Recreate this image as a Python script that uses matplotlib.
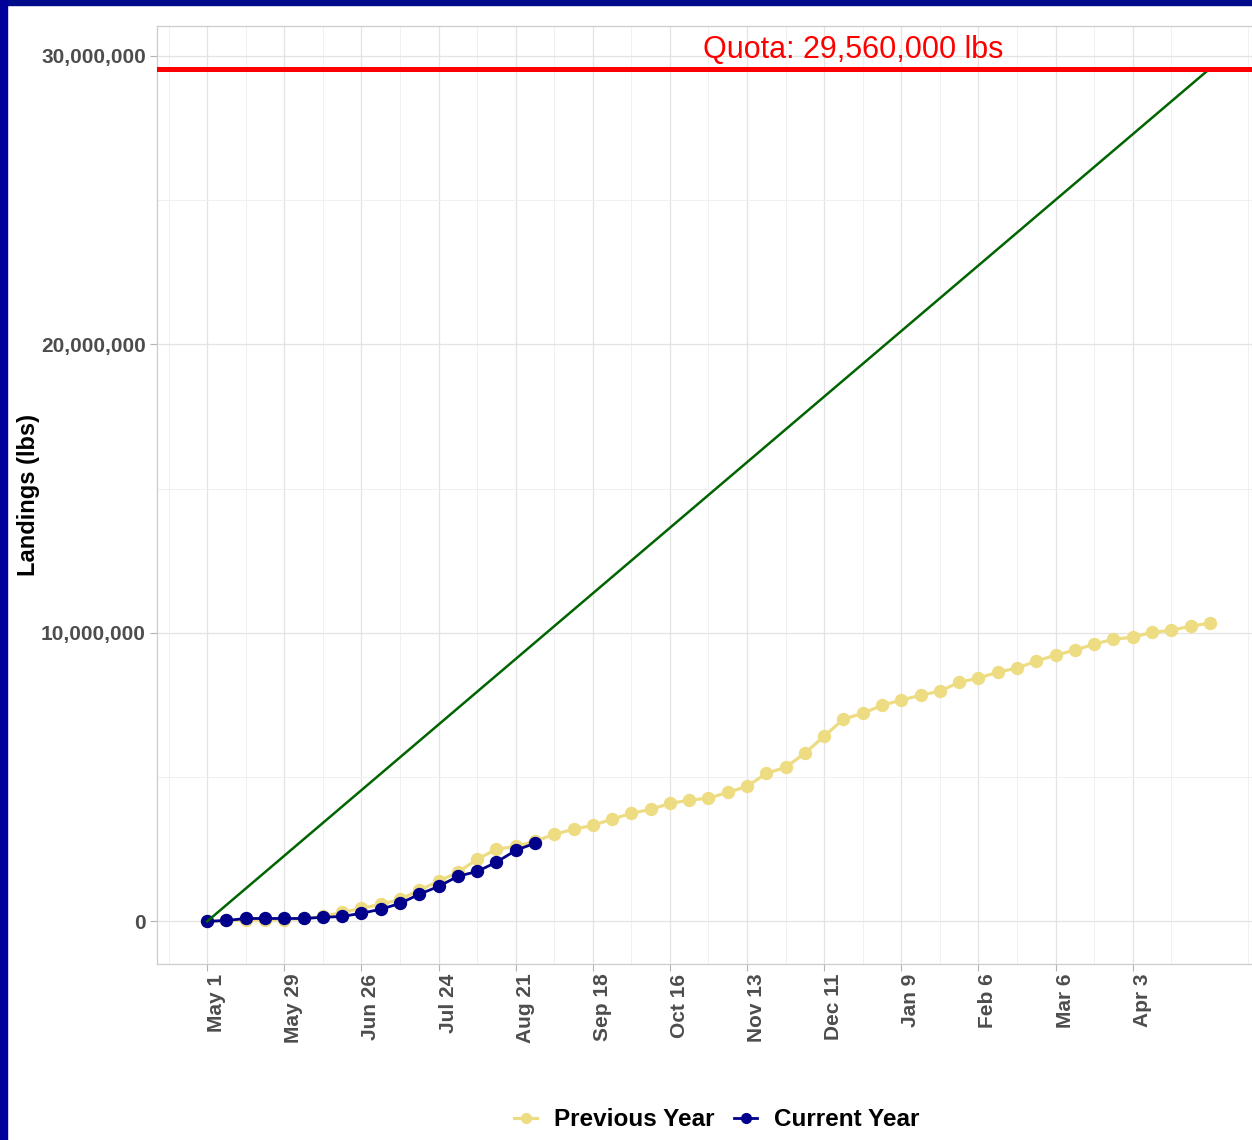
import matplotlib
matplotlib.use("Agg")
import matplotlib.pyplot as plt
from matplotlib.patches import Rectangle
from matplotlib.ticker import FuncFormatter, MultipleLocator

# -----------------------------------------------------------
# Datos (libras acumuladas por semana, desde May 1)
# -----------------------------------------------------------

cuota = 29560000

anterior = [0.00, 0.03, 0.03, 0.04, 0.06, 0.10, 0.17, 0.31, 0.45, 0.59,
            0.76, 1.08, 1.39, 1.70, 2.15, 2.50, 2.60, 2.77, 3.02, 3.19,
            3.33, 3.54, 3.75, 3.88, 4.09, 4.20, 4.27, 4.47, 4.68, 5.13,
            5.34, 5.83, 6.42, 7.01, 7.21, 7.49, 7.67, 7.84, 7.98, 8.29,
            8.43, 8.64, 8.78, 9.02, 9.23, 9.40, 9.61, 9.78, 9.85, 10.02,
            10.09, 10.23, 10.34]

actual = [0.00, 0.03, 0.10, 0.10, 0.10, 0.10, 0.14, 0.17, 0.28, 0.42,
          0.62, 0.94, 1.21, 1.56, 1.73, 2.05, 2.46, 2.71]

etiquetas_x = ["May 1", "May 29", "Jun 26", "Jul 24", "Aug 21", "Sep 18",
               "Oct 16", "Nov 13", "Dec 11", "Jan 9", "Feb 6", "Mar 6",
               "Apr 3"]

semanas_ant = list(range(len(anterior)))
semanas_act = list(range(len(actual)))
vals_ant = [v * 1e6 for v in anterior]
vals_act = [v * 1e6 for v in actual]
pos_ticks = [4 * i for i in range(len(etiquetas_x))]
ultima = semanas_ant[-1]

# -----------------------------------------------------------
# Figura
# -----------------------------------------------------------

plt.rcParams["font.family"] = ["Liberation Sans", "DejaVu Sans"]

fig = plt.figure(figsize=(12.52, 11.40), dpi=100)
ax = fig.add_axes([157 / 1252, 1 - 964 / 1140, 1103 / 1252, 938 / 1140])

ax.plot(semanas_ant, vals_ant, color="#EEDC82", lw=2.3, marker="o",
        ms=8.6, label="Previous Year", zorder=3)
ax.plot(semanas_act, vals_act, color="#00008B", lw=2.0, marker="o",
        ms=8.6, label="Current Year", zorder=4)
ax.plot([0, ultima], [0, cuota], color="#006400", lw=1.8, zorder=5)
ax.axhline(cuota, color="#FF0000", lw=3.6, zorder=6)

ax.annotate("Quota: 29,560,000 lbs", xy=(33.5, cuota), xytext=(0, 8),
            textcoords="offset points", ha="center", va="baseline",
            color="#FF0000", fontsize=22, zorder=7)

rango = ultima * 0.05
ax.set_xlim(-rango, ultima + rango)
ax.set_ylim(-cuota * 0.05, cuota * 1.05)

ax.set_xticks(pos_ticks)
ax.set_xticklabels(etiquetas_x, rotation=90, ha="left", va="top",
                   fontsize=15, fontweight="bold", color="#4D4D4D")
ax.xaxis.set_minor_locator(MultipleLocator(4, offset=2))
ax.yaxis.set_major_locator(MultipleLocator(10000000))
ax.yaxis.set_minor_locator(MultipleLocator(5000000))
ax.yaxis.set_major_formatter(FuncFormatter(lambda v, p: f"{int(v):,}"))
for t in ax.get_yticklabels():
    t.set_fontweight("bold")
ax.tick_params(axis="y", labelsize=15, labelcolor="#4D4D4D")
ax.tick_params(which="major", length=5, width=0.8, color="#B3B3B3", pad=3)
ax.tick_params(which="minor", length=0)
ax.tick_params(axis="x", pad=2)

ax.grid(which="major", color="#E3E3E3", lw=0.9)
ax.grid(which="minor", color="#F0F0F0", lw=0.7)
ax.set_axisbelow(True)
for s in ax.spines.values():
    s.set_color("#CCCCCC")
    s.set_linewidth(0.9)

ax.set_ylabel("Landings (lbs)", fontsize=17, fontweight="bold", labelpad=1)

leg = fig.legend(loc="center", bbox_to_anchor=(717 / 1252, 1 - 1120 / 1140),
                 ncol=2, frameon=False, fontsize=17.5, handlelength=0.95,
                 columnspacing=0.8, handletextpad=0.7)
for t in leg.get_texts():
    t.set_fontweight("bold")
for h in leg.legend_handles:
    h.set_markersize(7)

# marco azul de la diapositiva
fig.patches.append(Rectangle((0, 1 - 5 / 1140), 1, 5 / 1140,
                             transform=fig.transFigure, color="#000C8C",
                             zorder=10))
fig.patches.append(Rectangle((0, 0), 7 / 1252, 1,
                             transform=fig.transFigure, color="#00009B",
                             zorder=10))

fig.savefig("out.png", dpi=100)
